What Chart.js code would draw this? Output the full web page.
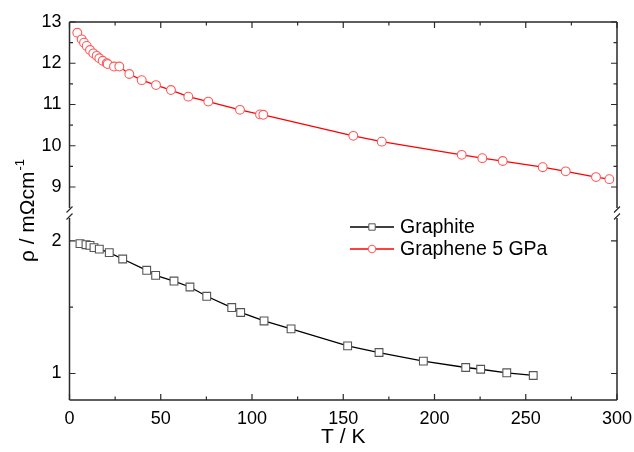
<!DOCTYPE html>
<html><head><meta charset="utf-8">
<script src="https://cdn.jsdelivr.net/npm/chart.js@4.4.0/dist/chart.umd.min.js"></script>
<style>html,body{margin:0;padding:0;background:#fff}#wrap{width:634px;height:452px}</style>
</head><body><div id="wrap"><canvas id="c" width="634" height="452"></canvas></div>
<script>
// ---- data ----
const seriesNames = ['Graphite', 'Graphene 5 GPa'];
const graphiteT = [5.75, 9.04, 11.23, 13.42, 16.33, 21.8, 29.15, 42.3, 47.2, 57.26, 66.0, 75.2, 88.9, 93.8, 106.6, 121.4, 152.4, 169.6, 193.9, 217.1, 225.3, 239.6, 254.1];
const graphiteRho = [1.979, 1.971, 1.966, 1.949, 1.938, 1.911, 1.863, 1.778, 1.740, 1.697, 1.652, 1.582, 1.497, 1.460, 1.396, 1.336, 1.208, 1.158, 1.093, 1.045, 1.032, 1.005, 0.985];
const grapheneT = [4.27, 6.68, 7.95, 9.42, 11.23, 13.04, 14.9, 16.33, 18.19, 20.38, 20.93, 24.38, 27.29, 32.77, 39.56, 47.4, 55.6, 65.1, 76.05, 93.4, 104.4, 106.2, 155.5, 171.1, 214.9, 226.2, 237.4, 259.3, 271.9, 288.5, 295.8];
const grapheneRho = [12.74, 12.58, 12.50, 12.42, 12.32, 12.24, 12.18, 12.12, 12.06, 12.00, 11.98, 11.92, 11.92, 11.74, 11.59, 11.47, 11.35, 11.19, 11.07, 10.87, 10.76, 10.75, 10.24, 10.10, 9.78, 9.70, 9.63, 9.48, 9.38, 9.24, 9.19];
const xTicks = [0, 50, 100, 150, 200, 250, 300];
const yTopTicks = [9, 10, 11, 12, 13];
const yBottomTicks = [1, 2];

const FONT = "'Liberation Sans', Arial, sans-serif";
const toPts = (xs, ys) => xs.map((x, i) => ({x: x, y: ys[i]}));
const mids = arr => arr.slice(0, -1).map((v, i) => (v + arr[i + 1]) / 2);

const graphiteStyle = {line: '#000000', point: '#555555'};
const grapheneStyle = {line: '#ff0000', point: '#ff5a5a'};

const decor = {
  id: 'decor',
  afterDatasetsDraw(chart) {
    const ctx = chart.ctx;
    const {left, right, top, bottom} = chart.chartArea;
    const sx = chart.scales.x, yt = chart.scales.yTop, yb = chart.scales.yBottom;
    const brk = (yt.bottom + yb.top) / 2;
    ctx.save();
    ctx.strokeStyle = '#2a2a2a';
    ctx.lineWidth = 1.5;
    ctx.beginPath();
    ctx.moveTo(left, top); ctx.lineTo(right, top);
    ctx.moveTo(left, bottom); ctx.lineTo(right, bottom);
    for (const xx of [left, right]) {
      ctx.moveTo(xx, top); ctx.lineTo(xx, brk - 5);
      ctx.moveTo(xx, brk + 5); ctx.lineTo(xx, bottom);
    }
    ctx.stroke();
    // break marks
    ctx.lineWidth = 1.2;
    ctx.beginPath();
    for (const xx of [left, right]) {
      for (const dy of [-3.5, 3.5]) {
        ctx.moveTo(xx - 3, brk + dy + 3);
        ctx.lineTo(xx + 3, brk + dy - 3);
      }
    }
    ctx.stroke();
    // inward ticks
    ctx.lineWidth = 1.2;
    ctx.beginPath();
    const xMinor = mids(xTicks);
    for (const v of xTicks.concat(xMinor)) {
      const len = xTicks.includes(v) ? 6 : 3.5;
      const p = sx.getPixelForValue(v);
      ctx.moveTo(p, bottom); ctx.lineTo(p, bottom - len);
      ctx.moveTo(p, top); ctx.lineTo(p, top + len);
    }
    for (const [sc, majors] of [[yt, yTopTicks], [yb, yBottomTicks]]) {
      for (const v of majors.concat(mids(majors))) {
        const len = majors.includes(v) ? 6 : 3.5;
        const p = sc.getPixelForValue(v);
        ctx.moveTo(left, p); ctx.lineTo(left + len, p);
        ctx.moveTo(right, p); ctx.lineTo(right - len, p);
      }
    }
    ctx.stroke();

    // y-axis title with superscript
    ctx.fillStyle = '#000';
    ctx.translate(28, (top + bottom) / 2);
    ctx.rotate(-Math.PI / 2);
    const main = 'ρ / mΩcm';
    const sup = '-1';
    ctx.font = '21px ' + FONT;
    const w1 = ctx.measureText(main).width;
    ctx.font = '13px ' + FONT;
    const w2 = ctx.measureText(sup).width;
    const x0 = -(w1 + w2) / 2;
    ctx.textBaseline = 'middle';
    ctx.textAlign = 'left';
    ctx.font = '21px ' + FONT;
    ctx.fillText(main, x0, 0);
    ctx.font = '13px ' + FONT;
    ctx.fillText(sup, x0 + w1 + 1, -8);
    ctx.restore();

    // legend
    ctx.save();
    const items = [
      {name: seriesNames[0], ds: chart.data.datasets[0], y: 227},
      {name: seriesNames[1], ds: chart.data.datasets[1], y: 249}
    ];
    for (const it of items) {
      ctx.strokeStyle = it.ds.borderColor;
      ctx.lineWidth = 1.3;
      ctx.beginPath();
      ctx.moveTo(350, it.y); ctx.lineTo(394, it.y);
      ctx.stroke();
      ctx.fillStyle = '#fff';
      ctx.strokeStyle = it.ds.pointBorderColor;
      ctx.lineWidth = 1;
      Chart.helpers.drawPoint(ctx, {pointStyle: it.ds.pointStyle, radius: it.ds.pointStyle === 'rect' ? 4.5 : 3.8, rotation: 0, borderWidth: 1}, 372, it.y);
      ctx.fillStyle = '#000';
      ctx.font = '19.5px ' + FONT;
      ctx.textBaseline = 'middle';
      ctx.textAlign = 'left';
      ctx.fillText(it.name, 400, it.y + 1);
    }
    ctx.restore();
  }
};

const tickFont = {family: FONT, size: 18};
const fixTicks = arr => (scale) => { scale.ticks = arr.map(v => ({value: v})); };

new Chart(document.getElementById('c'), {
  type: 'line',
  data: {
    datasets: [
      {
        label: seriesNames[0], data: toPts(graphiteT, graphiteRho), yAxisID: 'yBottom',
        borderColor: graphiteStyle.line, borderWidth: 1.3,
        pointStyle: 'rect', pointRadius: 5.5, pointBorderColor: graphiteStyle.point,
        pointBackgroundColor: '#fff', pointBorderWidth: 1.1, tension: 0
      },
      {
        label: seriesNames[1], data: toPts(grapheneT, grapheneRho), yAxisID: 'yTop',
        borderColor: grapheneStyle.line, borderWidth: 1.3,
        pointStyle: 'circle', pointRadius: 4.4, pointBorderColor: grapheneStyle.point,
        pointBackgroundColor: '#fff', pointBorderWidth: 1.1, tension: 0
      }
    ]
  },
  options: {
    responsive: false, animation: false, devicePixelRatio: 1,
    layout: {padding: {left: 0, right: 17, top: 22, bottom: 0}},
    plugins: {legend: {display: false}, tooltip: {enabled: false}},
    scales: {
      x: {
        type: 'linear', min: 0, max: 300,
        grid: {display: false, drawTicks: false}, border: {display: false},
        afterBuildTicks: fixTicks(xTicks),
        afterFit: s => { s.height = 52; s.paddingLeft = 0; s.paddingRight = 0; },
        ticks: {font: tickFont, color: '#000', padding: 8, maxRotation: 0},
        title: {display: true, text: 'T / K', font: {family: FONT, size: 21}, color: '#000', padding: {top: 0, bottom: 2}}
      },
      yBottom: {
        type: 'linear', position: 'left', stack: 'y', stackWeight: 187, min: 0.8, max: 2.21,
        grid: {display: false, drawTicks: false}, border: {display: false},
        afterBuildTicks: fixTicks(yBottomTicks),
        afterFit: s => { s.width = 69.5; },
        ticks: {font: tickFont, color: '#000', padding: 8}
      },
      yTop: {
        type: 'linear', position: 'left', stack: 'y', stackWeight: 191, min: 8.37, max: 13,
        grid: {display: false, drawTicks: false}, border: {display: false},
        afterBuildTicks: fixTicks(yTopTicks),
        afterFit: s => { s.width = 69.5; },
        ticks: {font: tickFont, color: '#000', padding: 8}
      }
    }
  },
  plugins: [decor]
});
</script></body></html>
